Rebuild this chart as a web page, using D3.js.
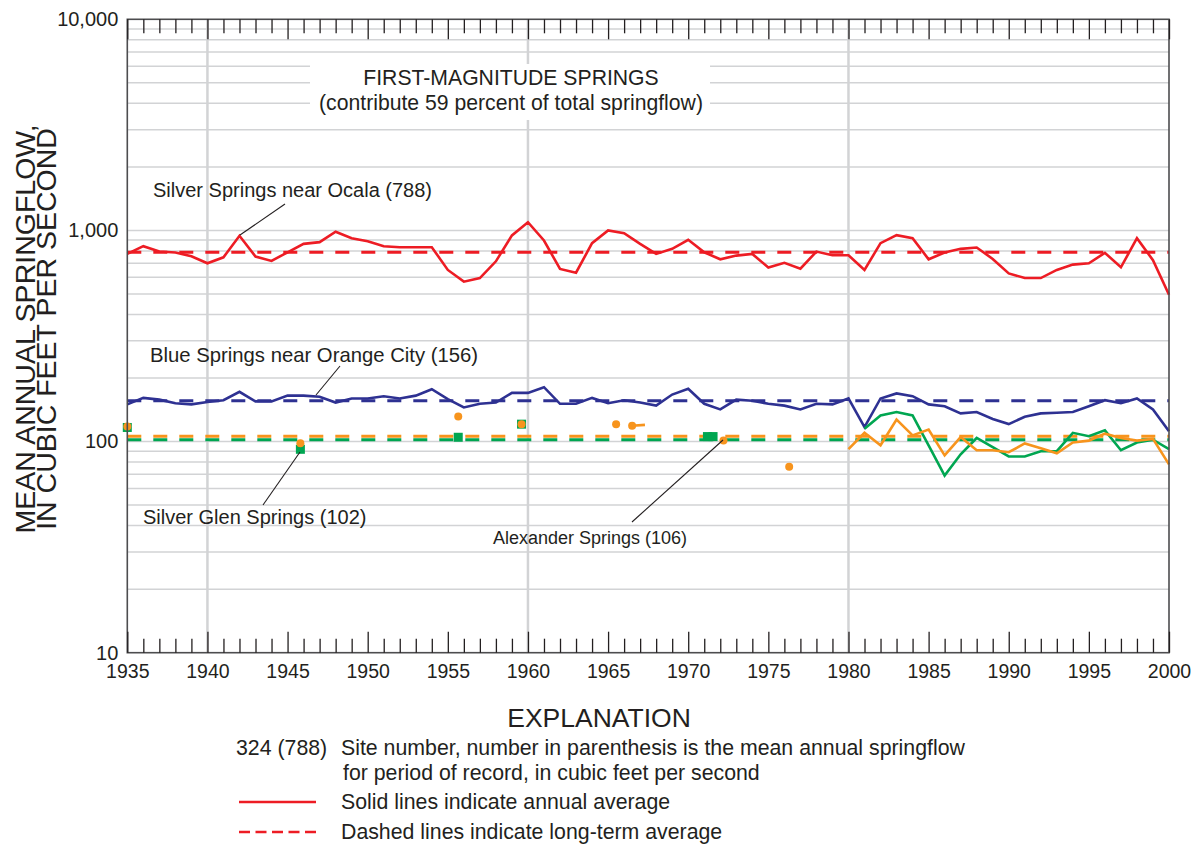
<!DOCTYPE html>
<html>
<head>
<meta charset="utf-8">
<script src="https://cdn.jsdelivr.net/npm/d3@7"></script>
<style>
  body { margin: 0; background: #fff; }
  svg text { font-family: "Liberation Sans", Arial, Helvetica, sans-serif; fill: #231f20; }
</style>
</head>
<body>
<svg id="chart" width="1201" height="848"></svg>
<script>
// ---- Annual mean springflow, cubic feet per second ----
const years = [1935,1936,1937,1938,1939,1940,1941,1942,1943,1944,
  1945,1946,1947,1948,1949,1950,1951,1952,1953,1954,
  1955,1956,1957,1958,1959,1960,1961,1962,1963,1964,
  1965,1966,1967,1968,1969,1970,1971,1972,1973,1974,
  1975,1976,1977,1978,1979,1980,1981,1982,1983,1984,
  1985,1986,1987,1988,1989,1990,1991,1992,1993,1994,
  1995,1996,1997,1998,1999,2000];

// Silver Springs near Ocala, 1935-2000
const silverSprings = [774,842,794,786,755,699,746,943,752,717,
  788,864,880,986,919,889,842,833,833,833,
  650,572,595,714,947,1094,896,657,631,870,
  1000,971,864,774,818,903,788,730,760,774,
  667,702,659,794,763,763,650,870,950,919,
  730,786,818,830,733,626,595,595,650,689,
  699,783,669,919,723,496];

// Blue Springs near Orange City, 1935-2000
const blueSprings = [150,161,158,152,150,154,157,172,155,155,
  165,165,163,153,160,160,164,160,165,177,
  159,145,151,153,170,170,181,151,151,161,
  152,157,153,148,167,178,151,142,158,156,
  151,148,142,151,150,160,117,160,169,164,
  150,147,136,138,128,121,131,136,137,138,
  147,157,152,160,142,112];

// Silver Glen Springs, continuous record 1981-2000
const glenYears = [1981,1982,1983,1984,1985,1986,1987,1988,1989,1990,
  1991,1992,1993,1994,1995,1996,1997,1998,1999,2000];
const glenFlow = [115,133,138,133,96,69,87,104,94,85,
  85,90,90,110,106,113,91,99,102,92];

// Alexander Springs, continuous record 1980-2000
const alexYears = [1980,1981,1982,1983,1984,1985,1986,1987,1988,1989,
  1990,1991,1992,1993,1994,1995,1996,1997,1998,1999,2000];
const alexFlow = [92,110,96,127,107,114,86,105,91,91,
  89,98,93,88,99,101,109,104,101,103,78];

// Miscellaneous measurements (decimal year, flow)
const glenMiscYears = [1935, 1945.8, 1955.65, 1959.6, 1971.2, 1971.55];
const glenMiscFlow  = [116.6, 91.9, 104.8, 120.9, 105.6, 105.6];
const alexMiscYears = [1935, 1945.8, 1955.65, 1959.6, 1965.5, 1966.5, 1972.2, 1976.3];
const alexMiscFlow  = [117.8, 98.2, 131.5, 120.9, 120.9, 118.8, 101.1, 76];
const alexPairYears = [1966.5, 1967.3];
const alexPairFlow  = [118.8, 120];

// Long-term means shown in the labels
const meanSilver = 788, meanBlue = 156, meanGlen = 102, meanAlex = 106;

// Axis tick values
const yLabelTicks = [10, 100, 1000, 10000];
const xLabelTicks = [1935,1940,1945,1950,1955,1960,1965,1970,1975,1980,1985,1990,1995,2000];
const xGridYears = [1940, 1960, 1980];

// ---- Drawing ----
const svg = d3.select("#chart");
const pLeft = 127.3, pRight = 1169, pTop = 19.3, pBottom = 652.7;

const x = d3.scaleLinear().domain([1935, 2000]).range([pLeft, pRight]);
const y = d3.scaleLog().domain([10, 10000]).range([pBottom, pTop]);

const RED = "#ed1c24", BLUE = "#2e3192", GREEN = "#00a651", ORANGE = "#f7941d";
const GRID = "#d2d3d5", INK = "#231f20";

// horizontal grid at every 1-9 multiple of each decade
const grid = svg.append("g");
grid.selectAll("line.h").data(y.ticks().filter(v => v > 10 && v < 10000))
  .join("line").attr("class", "h")
  .attr("x1", pLeft).attr("x2", pRight)
  .attr("y1", d => y(d)).attr("y2", d => y(d))
  .attr("stroke", GRID).attr("stroke-width", 1.5);
grid.selectAll("line.v").data(xGridYears)
  .join("line").attr("class", "v")
  .attr("x1", d => x(d)).attr("x2", d => x(d))
  .attr("y1", pTop).attr("y2", pBottom)
  .attr("stroke", GRID).attr("stroke-width", 2.5);

// heading with a white knockout
svg.append("rect").attr("x", 310).attr("y", 64).attr("width", 400).attr("height", 56).attr("fill", "#fff");
svg.append("text").attr("x", 511).attr("y", 85).attr("text-anchor", "middle")
  .style("font-size", "21.2px").text("FIRST-MAGNITUDE SPRINGS");
svg.append("text").attr("x", 511).attr("y", 109.5).attr("text-anchor", "middle")
  .style("font-size", "21.2px").text("(contribute 59 percent of total springflow)");

// long-term mean lines
const dashes = [
  { v: meanSilver, c: RED },
  { v: meanBlue, c: BLUE },
  { v: meanGlen, c: GREEN },
  { v: meanAlex, c: ORANGE }
];
svg.append("g").selectAll("line").data(dashes).join("line")
  .attr("x1", pLeft).attr("x2", pRight)
  .attr("y1", d => y(d.v)).attr("y2", d => y(d.v))
  .attr("stroke", d => d.c).attr("stroke-width", 3)
  .attr("stroke-dasharray", "14,12");

// annual series
const line = d3.line().x(d => x(d[0])).y(d => y(d[1]));
const series = [
  { xs: years, ys: silverSprings, c: RED },
  { xs: years, ys: blueSprings, c: BLUE },
  { xs: glenYears, ys: glenFlow, c: GREEN },
  { xs: alexYears, ys: alexFlow, c: ORANGE },
  { xs: alexPairYears, ys: alexPairFlow, c: ORANGE }
];
svg.append("g").selectAll("path").data(series).join("path")
  .attr("d", s => line(d3.zip(s.xs, s.ys)))
  .attr("fill", "none").attr("stroke", s => s.c)
  .attr("stroke-width", 2.6).attr("stroke-linejoin", "miter");

// isolated measurements
svg.append("g").selectAll("rect").data(d3.zip(glenMiscYears, glenMiscFlow)).join("rect")
  .attr("x", d => x(d[0]) - 4.5).attr("y", d => y(d[1]) - 4.5)
  .attr("width", 9).attr("height", 9).attr("fill", GREEN);
svg.append("g").selectAll("circle").data(d3.zip(alexMiscYears, alexMiscFlow)).join("circle")
  .attr("cx", d => x(d[0])).attr("cy", d => y(d[1])).attr("r", 4)
  .attr("fill", ORANGE);

// frame
svg.append("rect").attr("x", pLeft).attr("y", pTop)
  .attr("width", pRight - pLeft).attr("height", pBottom - pTop)
  .attr("fill", "none").attr("stroke", "#4d4d4f").attr("stroke-width", 1.6);

// inward year ticks on top and bottom
function yearTicks(axisFn, yPos, size, vals, labels) {
  const ax = axisFn(x).tickValues(vals).tickSize(-size).tickPadding(11.5)
    .tickFormat(labels ? d3.format("d") : "");
  const gg = svg.append("g").attr("transform", `translate(0,${yPos})`).call(ax);
  gg.select(".domain").remove();
  gg.selectAll(".tick line").attr("stroke", INK).attr("stroke-width", 1.3);
  gg.selectAll(".tick text").style("font-size", "19.5px").attr("fill", INK)
    .style("font-family", '"Liberation Sans", Arial, sans-serif');
  return gg;
}
const minorYears = years.filter(v => !xLabelTicks.includes(v));
yearTicks(d3.axisBottom, pBottom, 14, minorYears, false);
yearTicks(d3.axisBottom, pBottom, 21, xLabelTicks, true);
yearTicks(d3.axisTop, pTop, 14, minorYears, false);
yearTicks(d3.axisTop, pTop, 20, xLabelTicks, false);

// value labels on the left
const yAx = svg.append("g").attr("transform", `translate(${pLeft},0)`)
  .call(d3.axisLeft(y).tickValues(yLabelTicks).tickSize(0).tickPadding(9).tickFormat(d3.format(",")));
yAx.select(".domain").remove();
yAx.selectAll(".tick text").style("font-size", "20px").attr("fill", INK)
  .style("font-family", '"Liberation Sans", Arial, sans-serif');

// vertical axis title
const yTitle = ["MEAN ANNUAL SPRINGFLOW,", "IN CUBIC FEET PER SECOND"];
svg.append("g").selectAll("text").data(yTitle).join("text")
  .attr("transform", (d, i) => `translate(${35 + i * 21},329) rotate(-90)`)
  .attr("text-anchor", "middle").style("font-size", "28.5px").text(d => d);

// site annotations with leaders
const notes = [
  { t: "Silver Springs near Ocala (788)", x: 153, y: 197, fs: 20, l: [[285, 204], [240, 235]] },
  { t: "Blue Springs near Orange City (156)", x: 150, y: 362, fs: 20.3, l: [[340, 366], [316, 395]] },
  { t: "Silver Glen Springs (102)", x: 143, y: 524, fs: 20, l: [[263, 505], [300, 452]] },
  { t: "Alexander Springs (106)", x: 493, y: 544, fs: 18, l: [[632, 522], [723, 440]] }
];
const ng = svg.append("g");
ng.selectAll("text").data(notes).join("text")
  .attr("x", d => d.x).attr("y", d => d.y).style("font-size", d => d.fs + "px").text(d => d.t);
ng.selectAll("line").data(notes).join("line")
  .attr("x1", d => d.l[0][0]).attr("y1", d => d.l[0][1])
  .attr("x2", d => d.l[1][0]).attr("y2", d => d.l[1][1])
  .attr("stroke", INK).attr("stroke-width", 1.1);

// explanation block
const ex = svg.append("g");
const exFont = "21.3px";
ex.append("text").attr("x", 599).attr("y", 727).attr("text-anchor", "middle")
  .style("font-size", "26.5px").text("EXPLANATION");
ex.append("text").attr("x", 236).attr("y", 755).style("font-size", exFont).text("324 (788)");
ex.append("text").attr("x", 341).attr("y", 755).style("font-size", exFont)
  .text("Site number, number in parenthesis is the mean annual springflow");
ex.append("text").attr("x", 343).attr("y", 780).style("font-size", exFont)
  .text("for period of record, in cubic feet per second");
ex.append("line").attr("x1", 239).attr("x2", 316).attr("y1", 802).attr("y2", 802)
  .attr("stroke", RED).attr("stroke-width", 2.6);
ex.append("text").attr("x", 341).attr("y", 809).style("font-size", exFont)
  .text("Solid lines indicate annual average");
ex.append("line").attr("x1", 239).attr("x2", 316).attr("y1", 832).attr("y2", 832)
  .attr("stroke", RED).attr("stroke-width", 2.6).attr("stroke-dasharray", "11,5.5");
ex.append("text").attr("x", 341).attr("y", 839).style("font-size", exFont)
  .text("Dashed lines indicate long-term average");
</script>
</body>
</html>
